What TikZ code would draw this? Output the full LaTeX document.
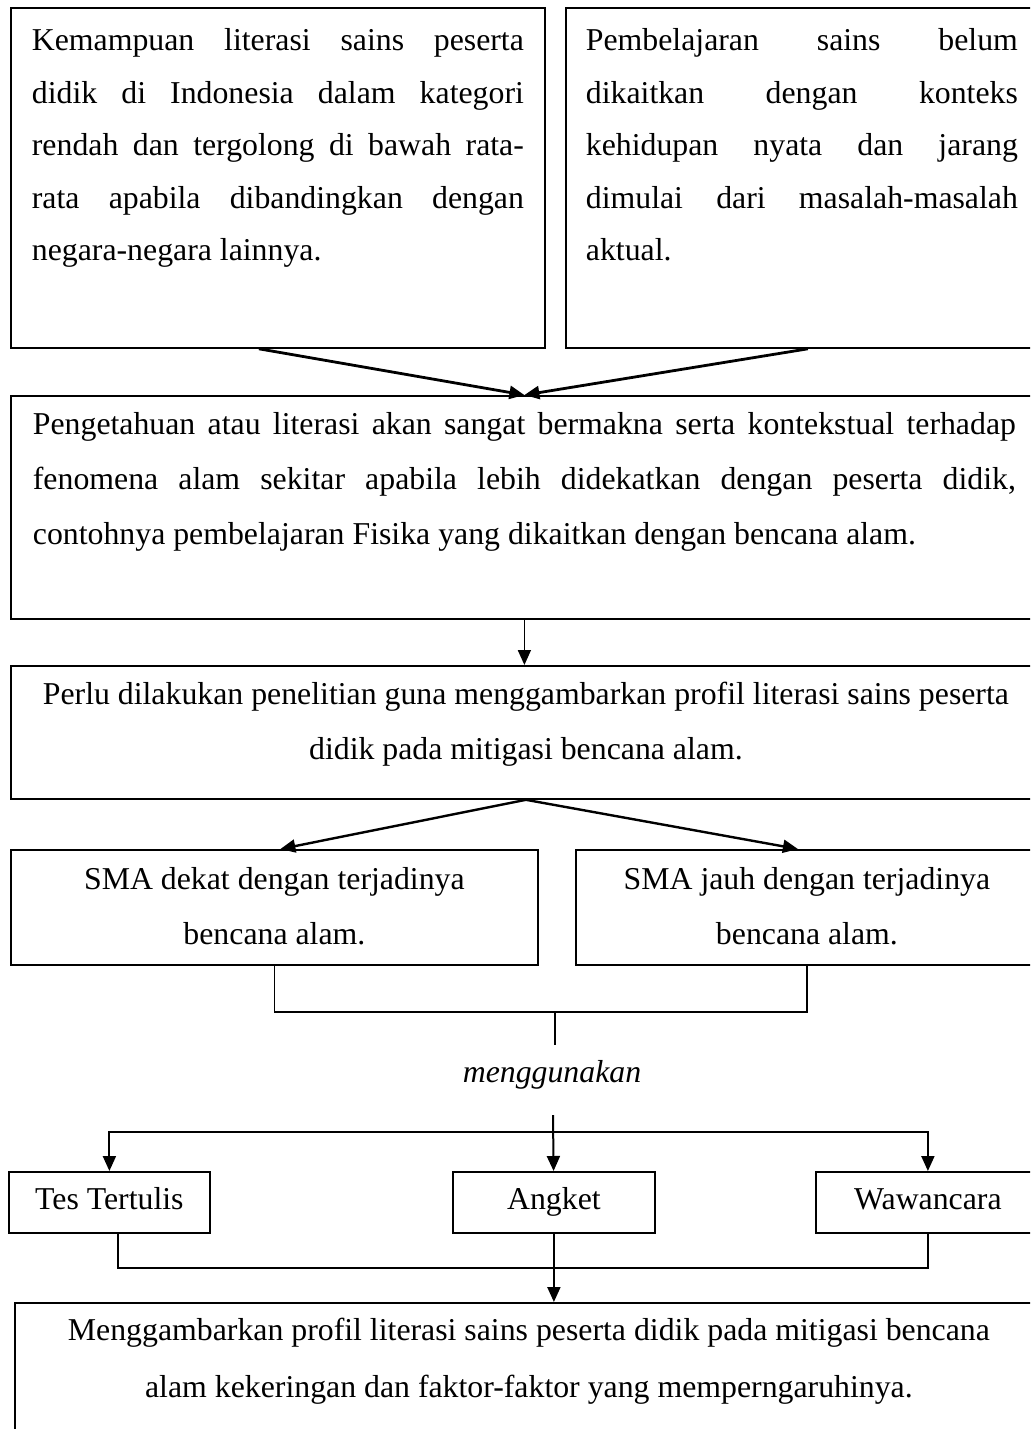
\documentclass[tikz,border=0pt]{standalone}
\usepackage{fontspec}
\setmainfont{Liberation Serif}
\usetikzlibrary{arrows.meta, calc, positioning}

\begin{document}
\begin{tikzpicture}[x=0.5pt, y=-0.5pt, >={Triangle[length=7.5pt,width=6.5pt]},
            font=\fontsize{15.9}{26.25}\selectfont,
            kotak/.style={draw, line width=.9pt, inner xsep=10pt, inner ysep=0pt, anchor=north west},
            kecil/.style={draw, line width=.9pt, inner sep=0pt, anchor=north west, minimum height=30.5pt, text height=11pt, text depth=3.5pt}]
        \path[use as bounding box, clip] (0,0) rectangle (1030,1429);
        \node[kotak, inner xsep=10.5pt] (kiri) at (10,7) {\parbox[t][170pt][t]{246pt}{\rule{0pt}{21.5pt}Kemampuan literasi sains peserta\linebreak didik di Indonesia dalam kategori\linebreak rendah dan tergolong di bawah rata-\linebreak rata apabila dibandingkan dengan\linebreak negara-negara lainnya.}};
        \node[kotak] (kanan) at (565,7) {\parbox[t][170pt][t]{216pt}{\rule{0pt}{21.5pt}Pembelajaran sains belum\linebreak dikaitkan dengan konteks\linebreak kehidupan nyata dan jarang\linebreak dimulai dari masalah-masalah\linebreak aktual.}};
        \node[kotak, inner xsep=11pt, font=\fontsize{15.9}{27.5}\selectfont] (tahu) at (10,395) {\parbox[t][111.5pt][t]{491.5pt}{\rule{0pt}{19.5pt}Pengetahuan atau literasi akan sangat bermakna serta kontekstual terhadap\linebreak fenomena alam sekitar apabila lebih didekatkan dengan peserta didik,\linebreak contohnya pembelajaran Fisika yang dikaitkan dengan bencana alam.}};
        \node[kotak, font=\fontsize{15.9}{27.5}\selectfont] (perlu) at (10,665) {\parbox[t][66.5pt][t]{495pt}{\centering\rule{0pt}{19.5pt}Perlu dilakukan penelitian guna menggambarkan profil literasi sains peserta\\ didik pada mitigasi bencana alam.}};
        \node[kotak, font=\fontsize{15.9}{27.5}\selectfont] (dekat) at (10,849) {\parbox[t][57.5pt][t]{243.5pt}{\centering\rule{0pt}{20pt}SMA dekat dengan terjadinya\\ bencana alam.}};
        \node[kotak, font=\fontsize{15.9}{27.5}\selectfont] (jauh) at (575,849) {\parbox[t][57.5pt][t]{211pt}{\centering\rule{0pt}{20pt}SMA jauh dengan terjadinya\\ bencana alam.}};
        \node (guna) at (552,1075) {\itshape menggunakan};
        \node[kecil, minimum width=100.5pt] (tes) at (8,1171) {Tes Tertulis};
        \node[kecil, minimum width=101pt] (angket) at (452,1171) {Angket};
        \node[kecil, minimum width=112pt] (wawancara) at (815,1171) {Wawancara};
        \node[kotak, font=\fontsize{15.9}{28.5}\selectfont] (hasil) at (14,1302) {\parbox[t][80pt][t]{494pt}{\centering\rule{0pt}{19pt}Menggambarkan profil literasi sains peserta didik pada mitigasi bencana\\ alam kekeringan dan faktor-faktor yang memperngaruhinya.}};
        \coordinate (kurung) at (555,1012);
        \coordinate (pusat) at (553,1115);
        \coordinate (cabang) at (553,1132);
        \coordinate (kurung2) at (553,1268);
        \draw[->, line width=1.4pt] ($(kiri.south)+(-19,0)$) -- (tahu.north);
        \draw[->, line width=1.4pt] ($(kanan.south)+(6,0)$) -- (tahu.north);
        \draw[->, line width=.8pt] (tahu.south) -- (tahu.south |- perlu.north);
        \draw[->, line width=1.2pt] (perlu.south) -- ($(dekat.north)+(6,0)$);
        \draw[->, line width=1.2pt] (perlu.south) -- ($(jauh.north)+(-9,0)$);
        \draw[line width=.8pt] (dekat.south) |- (kurung) -| (jauh.south);
        \draw[line width=.6pt] (kurung) -- ++(0,33);
        \draw[->, line width=1pt] (pusat) -- (angket);
        \draw[->, line width=1pt] (cabang) -| (tes.north);
        \draw[->, line width=1pt] (cabang) -| (wawancara.north);
        \draw[line width=1pt] ($(tes.south)+(9,0)$) |- (kurung2) -| (wawancara.south);
        \draw[->, line width=1pt] (angket.south) -- (angket.south |- hasil.north);
    \end{tikzpicture}
\end{document}
